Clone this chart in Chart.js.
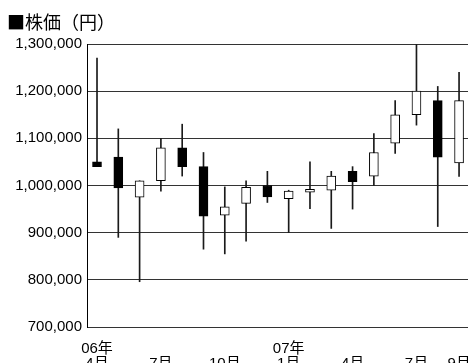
<!DOCTYPE html>
<html>
<head>
<meta charset="utf-8">
<script src="https://cdn.jsdelivr.net/npm/chart.js@4/dist/chart.umd.min.js"></script>
<style>
  body { margin: 0; background: #fff; }
  #wrap { width: 468px; height: 363px; }
</style>
</head>
<body>
<div id="wrap"><canvas id="chartPrice" width="468" height="363"></canvas></div>
<script>
const months = ['06年4月', '06年5月', '06年6月', '06年7月', '06年8月', '06年9月',
    '06年10月', '06年11月', '06年12月', '07年1月', '07年2月', '07年3月',
    '07年4月', '07年5月', '07年6月', '07年7月', '07年8月', '07年9月'];

const open  = [1050000, 1060000, 975000, 1010000, 1080000, 1040000, 937000, 962000, 1000000,
    972000, 986000, 990000, 1030000, 1020000, 1090000, 1150000, 1180000, 1048000];
const high  = [1270000, 1120000, 1010000, 1100000, 1130000, 1070000, 997000, 1010000, 1030000,
    990000, 1050000, 1030000, 1040000, 1110000, 1180000, 1300000, 1210000, 1240000];
const low   = [1040000, 890000, 796000, 988000, 1020000, 865000, 855000, 882000, 964000,
    900000, 951000, 909000, 950000, 1000000, 1068000, 1128000, 913000, 1019000];
const close = [1040000, 995000, 1010000, 1080000, 1040000, 935000, 955000, 996000, 976000,
    988000, 992000, 1020000, 1008000, 1070000, 1150000, 1200000, 1060000, 1180000];

const tickIdx = [0, 3, 6, 9, 12, 15, 17];
const tickLabels = [['06年', '4月'], ['', '7月'], ['', '10月'], ['07年', '1月'], ['', '4月'], ['', '7月'], ['', '9月']];

const FONT = "'Liberation Sans', 'Noto Sans CJK JP', sans-serif";

new Chart(document.getElementById('chartPrice'), {
    type: 'bar',
    data: {
        datasets: [
            {
                // body (open-close)
                label: 'body',
                data: months.map((m, i) => ({ x: i, y: [open[i], close[i]] })),
                backgroundColor: close.map((c, i) => c >= open[i] ? '#ffffff' : '#000000'),
                borderColor: '#000000',
                borderWidth: 1,
                borderSkipped: false,
                barThickness: 9,
                grouped: false,
                order: 1
            },
            {
                // wick (low-high)
                label: 'wick',
                data: months.map((m, i) => ({ x: i, y: [low[i], high[i]] })),
                backgroundColor: '#1a1a1a',
                borderWidth: 0,
                barThickness: 1,
                grouped: false,
                order: 2
            }
        ]
    },
    options: {
        responsive: false,
        animation: false,
        layout: { padding: { left: 7, right: 0, top: 0, bottom: 0 } },
        plugins: {
            legend: { display: false },
            tooltip: { enabled: false },
            title: {
                display: true,
                text: '■株価（円）',
                align: 'start',
                color: '#000',
                font: { family: "'Noto Sans CJK JP', sans-serif", size: 18, weight: 'normal', lineHeight: 1.2 },
                padding: { top: 11, bottom: 11.4 }
            }
        },
        scales: {
            x: {
                type: 'linear',
                offset: false,
                min: -0.47,
                max: 17.42,
                grid: { display: false, drawTicks: false },
                border: { display: false },
                afterBuildTicks: s => { s.ticks = tickIdx.map(v => ({ value: v })); },
                afterFit: s => { s.height = 36; s.paddingLeft = 0; s.paddingRight = 0; },
                ticks: {
                    autoSkip: false,
                    maxRotation: 0,
                    padding: 15,
                    color: '#000',
                    font: { family: FONT, size: 15, lineHeight: 0.95 },
                    callback: (v, i) => tickLabels[i]
                }
            },
            y: {
                min: 700000,
                max: 1300000,
                grid: { color: '#333333', lineWidth: 1, drawTicks: false },
                border: { display: true, color: '#000000', width: 1 },
                afterFit: s => { s.width = 80; s.paddingTop = 0; s.paddingBottom = 0; },
                ticks: {
                    stepSize: 100000,
                    padding: 5,
                    color: '#000',
                    font: { family: FONT, size: 15 },
                    callback: v => v.toLocaleString('en-US')
                }
            }
        }
    }
});
</script>
</body>
</html>
